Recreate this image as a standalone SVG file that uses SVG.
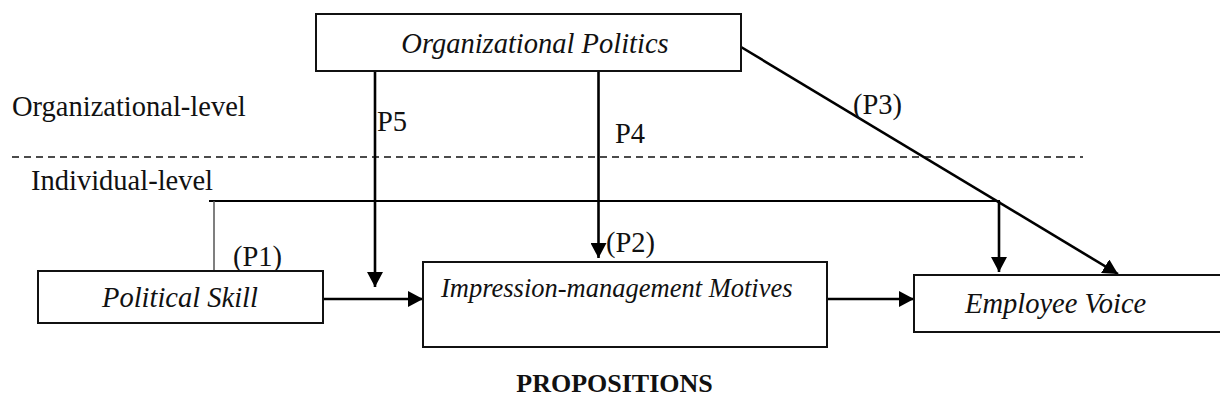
<svg xmlns="http://www.w3.org/2000/svg" width="1220" height="408" viewBox="0 0 1220 408">
<style>
  .box { fill: #fff; stroke: #111; stroke-width: 2; }
  .lbl { font-family: "Liberation Serif", "Times New Roman", serif; font-size: 28.5px; fill: #111; }
  .it { font-style: italic; }
  .conn { stroke: #000; stroke-width: 2.6; fill: none; }
  .thin { stroke: #555; stroke-width: 1.5; fill: none; }
  .dash { stroke: #111; stroke-width: 1.6; stroke-dasharray: 7 5; fill: none; }
</style>
<defs>
  <marker id="ah" viewBox="0 0 15 16" refX="15" refY="8" markerWidth="15" markerHeight="16" markerUnits="userSpaceOnUse" orient="auto">
    <path d="M0,0 L15,8 L0,16 z" fill="#000"/>
  </marker>
</defs>
<rect width="1220" height="408" fill="#fff"/>

<g id="levels">
  <line class="dash" x1="12" y1="157" x2="1083" y2="157"/>
  <text class="lbl" x="12" y="116">Organizational-level</text>
  <text class="lbl" x="31" y="190">Individual-level</text>
</g>

<g id="connectors">
  <line class="conn" x1="375" y1="71" x2="375" y2="287" marker-end="url(#ah)"/>
  <line class="conn" x1="598.5" y1="71" x2="598.5" y2="258" marker-end="url(#ah)"/>
  <line class="conn" x1="741" y1="47" x2="1118" y2="274" marker-end="url(#ah)"/>
  <line class="conn" style="stroke-width:2.2" x1="209" y1="201" x2="1000" y2="201"/>
  <line class="thin" x1="214" y1="201" x2="214" y2="271"/>
  <line class="conn" x1="999" y1="201" x2="999" y2="272" marker-end="url(#ah)"/>
  <line class="conn" x1="323" y1="299" x2="423" y2="299" marker-end="url(#ah)"/>
  <line class="conn" x1="827" y1="299" x2="914" y2="299" marker-end="url(#ah)"/>
  <text class="lbl" x="377" y="131">P5</text>
  <text class="lbl" x="615" y="143">P4</text>
  <text class="lbl" x="853" y="114">(P3)</text>
  <text class="lbl" x="233" y="266">(P1)</text>
  <text class="lbl" x="606" y="252">(P2)</text>
</g>

<g id="org-politics">
  <rect class="box" x="316" y="14" width="425" height="57"/>
  <text class="lbl it" x="535" y="53" text-anchor="middle">Organizational Politics</text>
</g>

<g id="political-skill">
  <rect class="box" x="38" y="271" width="285" height="52"/>
  <text class="lbl it" x="180" y="307" text-anchor="middle">Political Skill</text>
</g>

<g id="impression-management">
  <rect class="box" x="423" y="262" width="404" height="85"/>
  <text class="lbl it" x="441" y="297" style="font-size:26.5px">Impression-management Motives</text>
</g>

<g id="employee-voice">
  <rect class="box" x="914" y="275" width="312" height="57"/>
  <text class="lbl it" x="965" y="313">Employee Voice</text>
</g>

<g id="caption">
  <text class="lbl" x="614.5" y="392" text-anchor="middle" style="font-weight:bold;font-size:26px">PROPOSITIONS</text>
</g>
</svg>
